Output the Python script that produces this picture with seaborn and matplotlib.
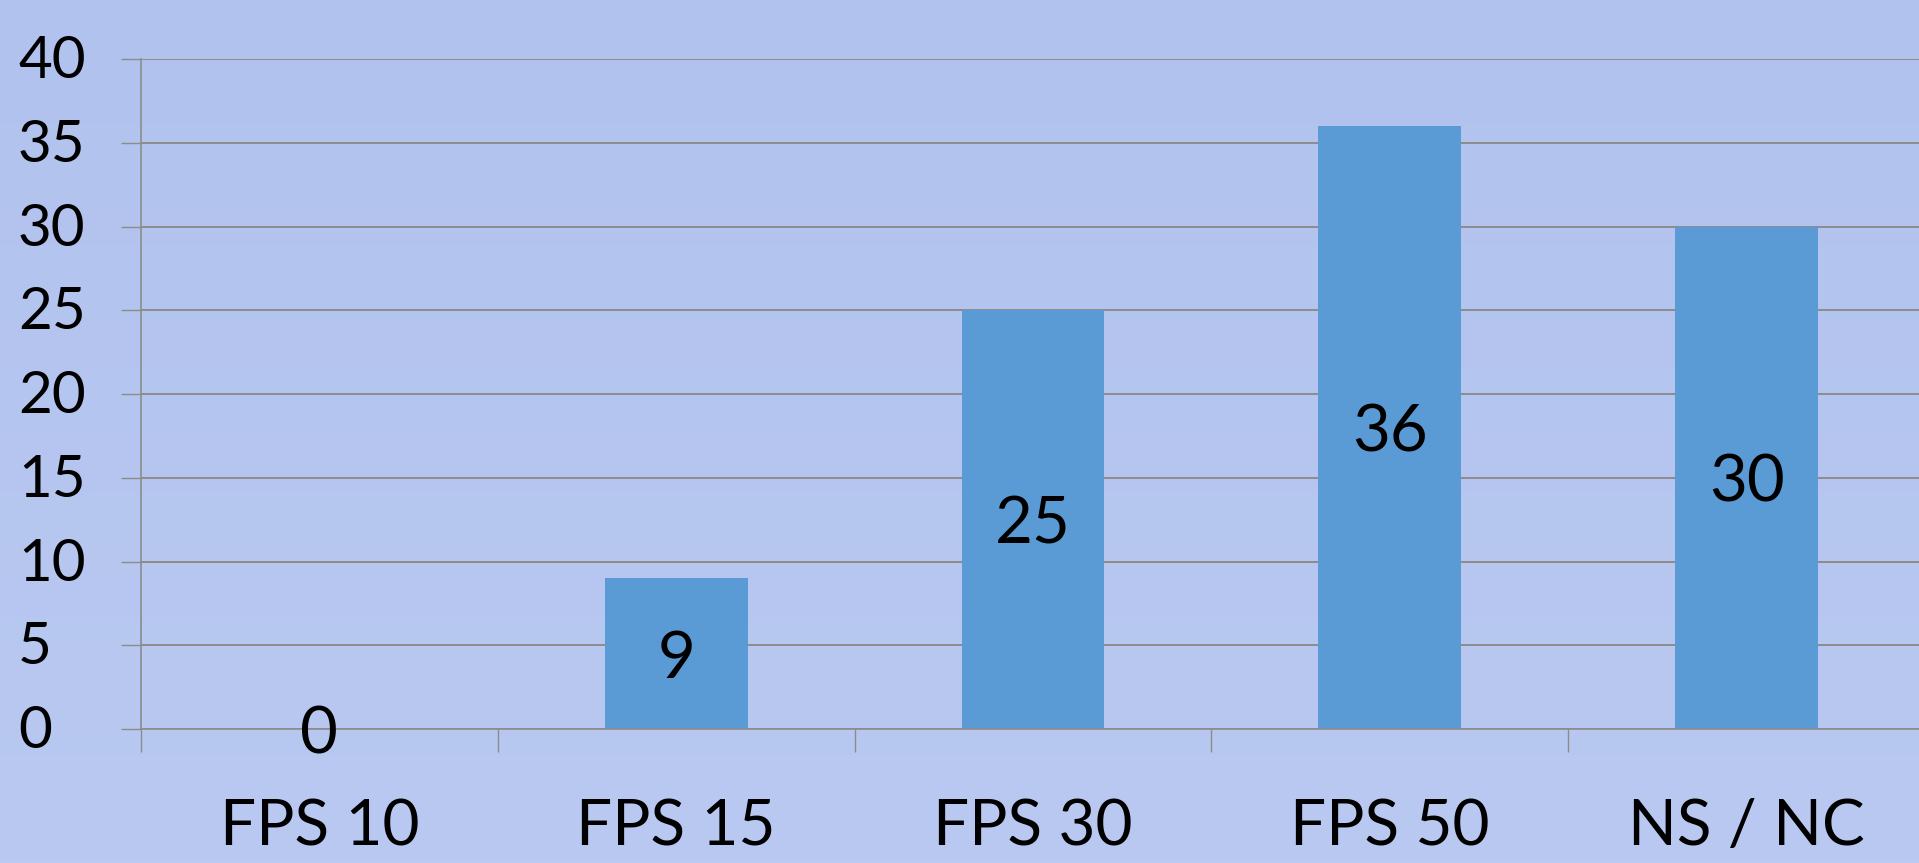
import numpy as np
import pandas as pd
import matplotlib
matplotlib.use("Agg")
import matplotlib.pyplot as plt
import matplotlib.transforms as mtransforms
import seaborn as sns

categories = ["FPS 10", "FPS 15", "FPS 30", "FPS 50", "NS / NC"]
values = [0, 9, 25, 36, 30]
yticks = [0, 5, 10, 15, 20, 25, 30, 35, 40]

sns.set_theme(style="white")
plt.rcParams['font.family'] = ['Lato', 'DejaVu Sans']

W, H = 1919, 863
fig = plt.figure(figsize=(W / 100, H / 100), dpi=100)

# background gradient
bg = fig.add_axes([0, 0, 1, 1], zorder=-10)
top = np.array([177, 194, 238]) / 255
bot = np.array([185, 201, 241]) / 255
t = np.linspace(0, 1, 256)[:, None]
grad = (top[None, :] * (1 - t) + bot[None, :] * t)[:, None, :]
bg.imshow(grad, aspect="auto", extent=[0, 1, 0, 1])
bg.set_axis_off()

x0, x1 = 141, 1925
y0, y1 = 729, 59
ax = fig.add_axes([x0 / W, (H - y0) / H, (x1 - x0) / W, (y0 - y1) / H])
ax.patch.set_alpha(0)

df = pd.DataFrame({"cat": categories, "val": values})
sns.barplot(data=df, x="cat", y="val", color="#5B9BD5", saturation=1,
            width=0.4, ax=ax, zorder=3, edgecolor="none", linewidth=0)
ax.set_xlim(-0.5, len(categories) - 0.5)
ax.set_ylim(0, 40)
ax.set_xlabel("")
ax.set_ylabel("")

gray = "#8C8C8C"
ax.set_yticks(yticks)
ax.yaxis.grid(True, color=gray, linewidth=1.4, zorder=1)
ax.set_axisbelow(True)
ax.tick_params(axis="y", direction="out", length=14.4, width=1.0, color=gray,
               labelleft=False, left=True)
ax.set_xticks(np.arange(-0.5, len(categories), 1.0), minor=True)
ax.tick_params(axis="x", which="minor", direction="out", length=16.6, width=1.0,
               color=gray, bottom=True)
ax.tick_params(axis="x", which="major", length=0, labelbottom=False)
for s in ["top", "right"]:
    ax.spines[s].set_visible(False)
for s in ["left", "bottom"]:
    ax.spines[s].set_color(gray)
    ax.spines[s].set_linewidth(1.2)
    ax.spines[s].set_zorder(4)

# y tick labels, left aligned
ytrans = mtransforms.blended_transform_factory(fig.transFigure, ax.transData)
ytrans = mtransforms.offset_copy(ytrans, fig=fig, y=-19, units="dots")
for v in yticks:
    fig.text(18 / W, v, str(v), transform=ytrans, ha="left", va="baseline",
             fontsize=42, color="black")

# x category labels
xtrans = mtransforms.blended_transform_factory(ax.transData, fig.transFigure)
for i, c in enumerate(categories):
    ax.text(i, (H - 845) / H, c, transform=xtrans, ha="center", va="baseline",
            fontsize=46, color="black", clip_on=False)

# data labels
dtrans = mtransforms.offset_copy(ax.transData, fig=fig, y=-24, units="dots")
for i, v in enumerate(values):
    ax.text(i, v / 2, str(v), transform=dtrans, ha="center", va="baseline",
            fontsize=47, color="black", zorder=5, clip_on=False)

fig.savefig("out.png", dpi=100)
